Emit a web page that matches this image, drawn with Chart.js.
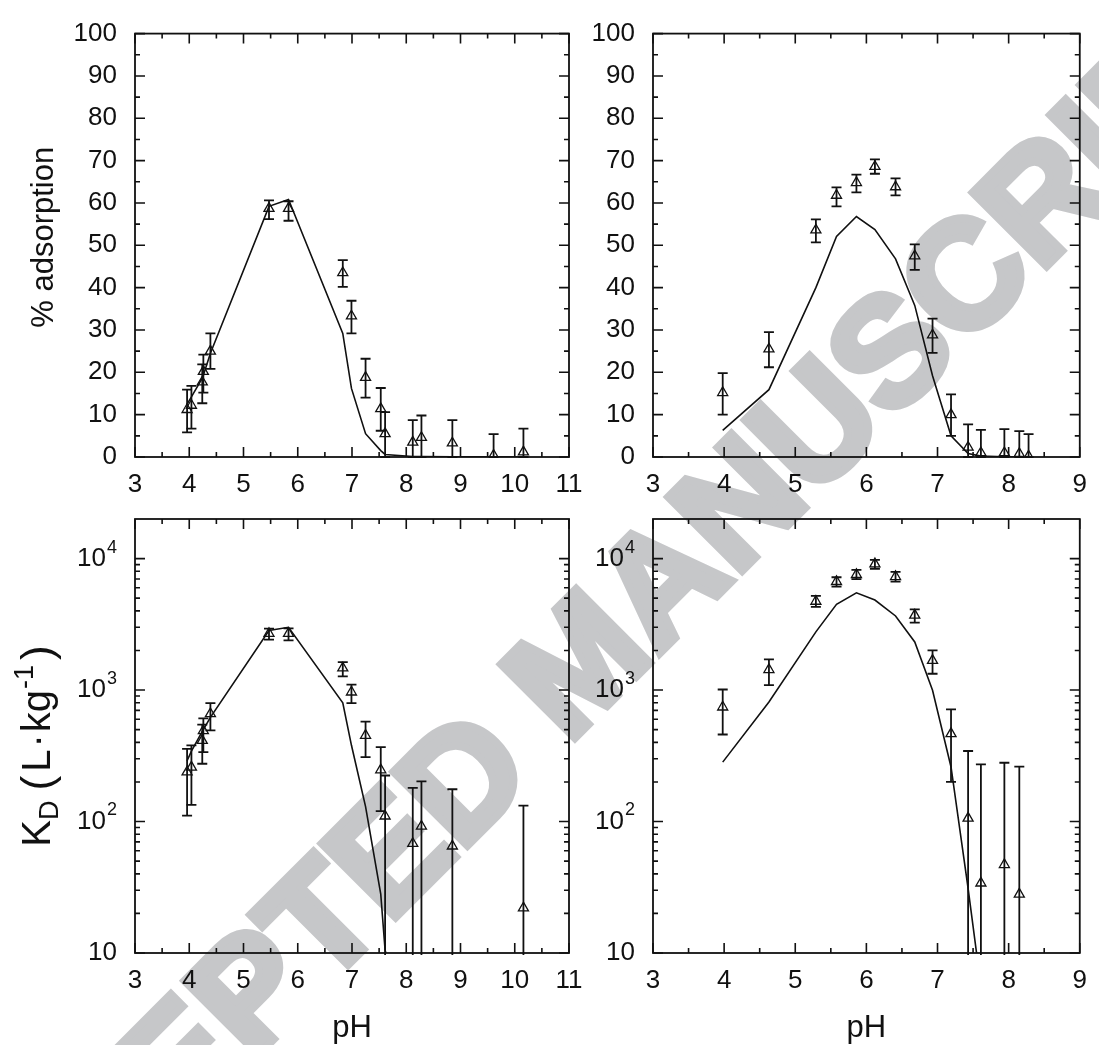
<!DOCTYPE html>
<html>
<head>
<meta charset="utf-8">
<script src="https://cdn.jsdelivr.net/npm/chart.js@4.4.1/dist/chart.umd.min.js"></script>
<style>
  body { margin: 0; background: #fff; }
  #page { position: relative; width: 1099px; height: 1045px; overflow: hidden; }
  #page canvas { position: absolute; left: 0; top: 0; }
  #wm {
    position: absolute; left: 578px; top: 660px;
    transform: translate(-50%, -50%) rotate(-45deg);
    font: bold 152px 'Liberation Sans', Arial, sans-serif; line-height: 1;
    color: #c6c7c9; -webkit-text-stroke: 8px #c6c7c9; white-space: nowrap;
  }
</style>
</head>
<body>
<div id="page">
  <div id="wm">ACCEPTED MANUSCRIPT</div>
  <canvas id="cA" width="1099" height="1045"></canvas>
  <canvas id="cB" width="1099" height="1045"></canvas>
  <canvas id="cC" width="1099" height="1045"></canvas>
  <canvas id="cD" width="1099" height="1045"></canvas>
</div>
<script>
// Datos: panel izquierdo (pH 3-11)
const phA = [3.96, 4.04, 4.24, 4.26, 4.39, 5.47, 5.83, 6.83, 6.99, 7.25, 7.53, 7.61, 8.12, 8.28, 8.85, 9.61, 10.16];
const adsA = [11.2, 12.2, 17.7, 20.2, 25.0, 58.7, 58.7, 43.5, 33.3, 18.8, 11.4, 5.5, 3.5, 4.6, 3.3, 0.4, 1.2];
const adsAHi = [15.9, 16.8, 21.9, 24.2, 29.2, 60.6, 60.4, 46.5, 36.9, 23.2, 16.3, 10.6, 8.7, 9.8, 8.7, 5.4, 6.7];
const adsALo = [5.8, 6.7, 12.7, 15.2, 20.8, 56.2, 55.8, 40.2, 29.2, 14.0, 6.2, 0, 0, 0, 0, 0, 0];
const fitAdsA = [12.5, 14.2, 18.6, 19.3, 24.5, 59.2, 60.8, 29.2, 16.2, 5.5, 1.5, 0.6, 0.1, 0.08, 0.05, 0.02, 0.01];
const kdA = [238, 259, 414, 490, 660, 2690, 2690, 1470, 965, 452, 247, 110, 68, 92, 65, null, 22];
const kdAHi = [357, 380, 545, 608, 796, 2930, 2950, 1630, 1100, 575, 368, 224, 180, 202, 176, null, 132];
const kdALo = [111, 134, 275, 337, 494, 2420, 2390, 1270, 796, 309, 120, 1, 1, 1, 1, null, 1];
const fitKdA = [290, 343, 484, 500, 620, 2840, 3000, 800, 380, 130, 28, 10.5, 2, 1.6, 1, 0.4, 0.2];

// Datos: panel derecho (pH 3-9)
const phB = [3.98, 4.63, 5.29, 5.58, 5.86, 6.12, 6.41, 6.68, 6.93, 7.19, 7.43, 7.61, 7.94, 8.15, 8.28];
const adsB = [15.2, 25.5, 53.6, 61.8, 64.8, 68.6, 63.8, 47.5, 28.8, 10.0, 2.3, 1.0, 1.0, 0.8, 0.2];
const adsBHi = [19.8, 29.5, 56.1, 63.7, 66.7, 70.3, 65.8, 50.2, 32.7, 14.8, 7.7, 6.4, 6.6, 6.1, 5.4];
const adsBLo = [10.0, 21.2, 50.7, 59.2, 62.5, 66.9, 61.8, 44.2, 24.6, 5.0, 0, 0, 0, 0, 0];
const fitAdsB = [6.3, 15.9, 40.0, 52.1, 56.8, 53.7, 46.8, 35.8, 19.2, 5.0, 0.8, 0.2, 0.05, 0.02, 0.01];
const kdB = [742, 1430, 4730, 6680, 7550, 9100, 7290, 3710, 1680, 466, 106, 34, 47, 28, null];
const kdBHi = [1010, 1710, 5200, 7210, 8200, 9770, 7910, 4110, 2000, 712, 344, 272, 280, 262, null];
const kdBLo = [459, 1090, 4290, 6120, 6970, 8370, 6680, 3260, 1330, 200, 1, 1, 1, 1, null];
const fitKdB = [283, 811, 2770, 4490, 5490, 4840, 3660, 2320, 995, 260, 31, 5.6, 1, 0.5, 0.3];

// Etiquetas
const xTitle = 'pH';
const pctTitle = '% adsorption';
const decades = [10, 100, 1000, 10000];

const FONT = "'Liberation Sans', Arial, sans-serif";
const INK = '#111';
const Y_W = 60, X_H = 60;

// Marco, ticks interiores, barras de error y titulos
const decor = {
  id: 'decor',
  afterDatasetsDraw(chart, args, opts) {
    const ctx = chart.ctx, a = chart.chartArea;
    const xs = chart.scales.x, ys = chart.scales.y;

    // barras de error
    ctx.save();
    ctx.beginPath();
    ctx.rect(a.left, a.top - 2, a.right - a.left, a.bottom - a.top + 4);
    ctx.clip();
    ctx.strokeStyle = INK;
    ctx.lineWidth = 1.8;
    chart.data.datasets.forEach(ds => {
      if (!ds.errHi) return;
      ds.data.forEach((p, i) => {
        if (p.y == null || ds.errHi[i] == null) return;
        const px = xs.getPixelForValue(p.x);
        const yh = ys.getPixelForValue(ds.errHi[i]);
        const yl = ys.getPixelForValue(ds.errLo[i]);
        ctx.beginPath();
        ctx.moveTo(px, yh); ctx.lineTo(px, yl);
        ctx.moveTo(px - 5, yh); ctx.lineTo(px + 5, yh);
        ctx.moveTo(px - 5, yl); ctx.lineTo(px + 5, yl);
        ctx.stroke();
      });
    });
    ctx.restore();

    ctx.save();
    ctx.strokeStyle = INK;
    ctx.lineWidth = 1.6;
    const tickX = (v, len) => {
      const px = xs.getPixelForValue(v);
      ctx.beginPath();
      ctx.moveTo(px, a.bottom); ctx.lineTo(px, a.bottom - len);
      ctx.moveTo(px, a.top); ctx.lineTo(px, a.top + len);
      ctx.stroke();
    };
    const tickY = (v, len) => {
      const py = ys.getPixelForValue(v);
      ctx.beginPath();
      ctx.moveTo(a.left, py); ctx.lineTo(a.left + len, py);
      ctx.moveTo(a.right, py); ctx.lineTo(a.right - len, py);
      ctx.stroke();
    };
    for (let v = xs.min; v <= xs.max; v++) {
      tickX(v, 10);
      if (v < xs.max) tickX(v + 0.5, 5);
    }
    if (opts.log) {
      decades.forEach(d => {
        tickY(d, 10);
        for (let k = 2; k <= 9; k++) if (d * k < ys.max) tickY(d * k, 5);
      });
    } else {
      for (let v = 0; v <= 100; v += 10) {
        tickY(v, 10);
        if (v < 100) tickY(v + 5, 5);
      }
    }
    ctx.lineWidth = 1.8;
    ctx.strokeRect(a.left, a.top, a.right - a.left, a.bottom - a.top);

    ctx.fillStyle = INK;
    // etiquetas log 10^n
    if (opts.log) {
      const right = a.left - 18;
      decades.forEach((d, n) => {
        const py = ys.getPixelForValue(d);
        ctx.textBaseline = 'middle';
        ctx.textAlign = 'right';
        if (n === 0) {
          ctx.font = '26px ' + FONT;
          ctx.fillText('10', right, py);
        } else {
          ctx.font = '18px ' + FONT;
          const sup = String(n + 1);
          const w = ctx.measureText(sup).width;
          ctx.fillText(sup, right, py - 11);
          ctx.font = '26px ' + FONT;
          ctx.fillText('10', right - w - 1, py);
        }
      });
    }

    // titulo eje x
    if (opts.showX) {
      ctx.font = '31px ' + FONT;
      ctx.textAlign = 'center';
      ctx.textBaseline = 'alphabetic';
      ctx.fillText(xTitle, (a.left + a.right) / 2, a.bottom + 84);
    }

    // titulo eje y
    if (opts.yTitle === 'pct') {
      ctx.save();
      ctx.translate(a.left - 82, (a.top + a.bottom) / 2 - 8);
      ctx.rotate(-Math.PI / 2);
      ctx.font = '31px ' + FONT;
      ctx.textAlign = 'center';
      ctx.textBaseline = 'alphabetic';
      ctx.fillText(pctTitle, 0, 0);
      ctx.restore();
    } else if (opts.yTitle === 'kd') {
      ctx.save();
      ctx.translate(a.left - 85, (a.top + a.bottom) / 2 + 10);
      ctx.rotate(-Math.PI / 2);
      ctx.textBaseline = 'alphabetic';
      ctx.textAlign = 'left';
      const big = '40px ' + FONT, small = '27px ' + FONT, paren = '44px ' + FONT;
      // [texto, fuente, desplazamiento vertical, espacio tras el texto]
      const parts = [
        ['K', big, 0, 0], ['D', small, 8, 10], ['(', paren, 2, 4], ['L', big, 0, 2], ['\u00B7', big, 0, 2],
        ['kg', big, 0, 1], ['-1', small, -17, 5], [')', paren, 2, 0]
      ];
      let total = 0;
      parts.forEach(p => { ctx.font = p[1]; total += ctx.measureText(p[0]).width + p[3]; });
      let x = -total / 2;
      parts.forEach(p => {
        ctx.font = p[1];
        ctx.fillText(p[0], x, p[2]);
        x += ctx.measureText(p[0]).width + p[3];
      });
      ctx.restore();
    }
    ctx.restore();
  }
};

function panel(id, area, xMax, log, ph, vals, lo, hi, fit, yTitle, showX) {
  const yScale = log
    ? { type: 'logarithmic', min: 10, max: 20000, ticks: { display: false } }
    : { type: 'linear', min: 0, max: 100,
        ticks: { stepSize: 10, autoSkip: false, padding: 18, color: INK, font: { family: FONT, size: 26 } } };
  yScale.grid = { display: false, drawTicks: false };
  yScale.border = { display: false };
  yScale.afterFit = s => { s.width = Y_W; };

  return new Chart(document.getElementById(id), {
    type: 'scatter',
    data: {
      datasets: [
        {
          data: ph.map((x, i) => ({ x: x, y: fit[i] })),
          showLine: true, borderColor: INK, borderWidth: 1.6, pointRadius: 0
        },
        {
          data: ph.map((x, i) => ({ x: x, y: vals[i] })),
          errLo: lo, errHi: hi,
          showLine: false, pointStyle: 'triangle', pointRadius: 5.8,
          borderColor: INK, borderWidth: 1.3, backgroundColor: 'rgba(0,0,0,0)'
        }
      ]
    },
    options: {
      responsive: false,
      animation: false,
      devicePixelRatio: 1,
      layout: {
        autoPadding: false,
        padding: {
          left: area.left - Y_W, top: area.top,
          right: 1099 - area.right, bottom: 1045 - area.bottom - X_H
        }
      },
      scales: {
        x: {
          type: 'linear', min: 3, max: xMax,
          ticks: { stepSize: 1, autoSkip: false, padding: 12, color: INK, font: { family: FONT, size: 26 } },
          grid: { display: false, drawTicks: false },
          border: { display: false },
          afterFit: s => { s.height = X_H; }
        },
        y: yScale
      },
      plugins: {
        legend: { display: false },
        tooltip: { enabled: false },
        decor: { log: log, yTitle: yTitle, showX: showX }
      }
    },
    plugins: [decor]
  });
}

panel('cA', { left: 135, top: 23, right: 569, bottom: 457 }, 11, false, phA, adsA, adsALo, adsAHi, fitAdsA, 'pct', false);
panel('cB', { left: 653, top: 23, right: 1088, bottom: 457 }, 9, false, phB, adsB, adsBLo, adsBHi, fitAdsB, null, false);
panel('cC', { left: 135, top: 519, right: 569, bottom: 953 }, 11, true, phA, kdA, kdALo, kdAHi, fitKdA, 'kd', true);
panel('cD', { left: 653, top: 519, right: 1088, bottom: 953 }, 9, true, phB, kdB, kdBLo, kdBHi, fitKdB, null, true);
</script>
</body>
</html>
